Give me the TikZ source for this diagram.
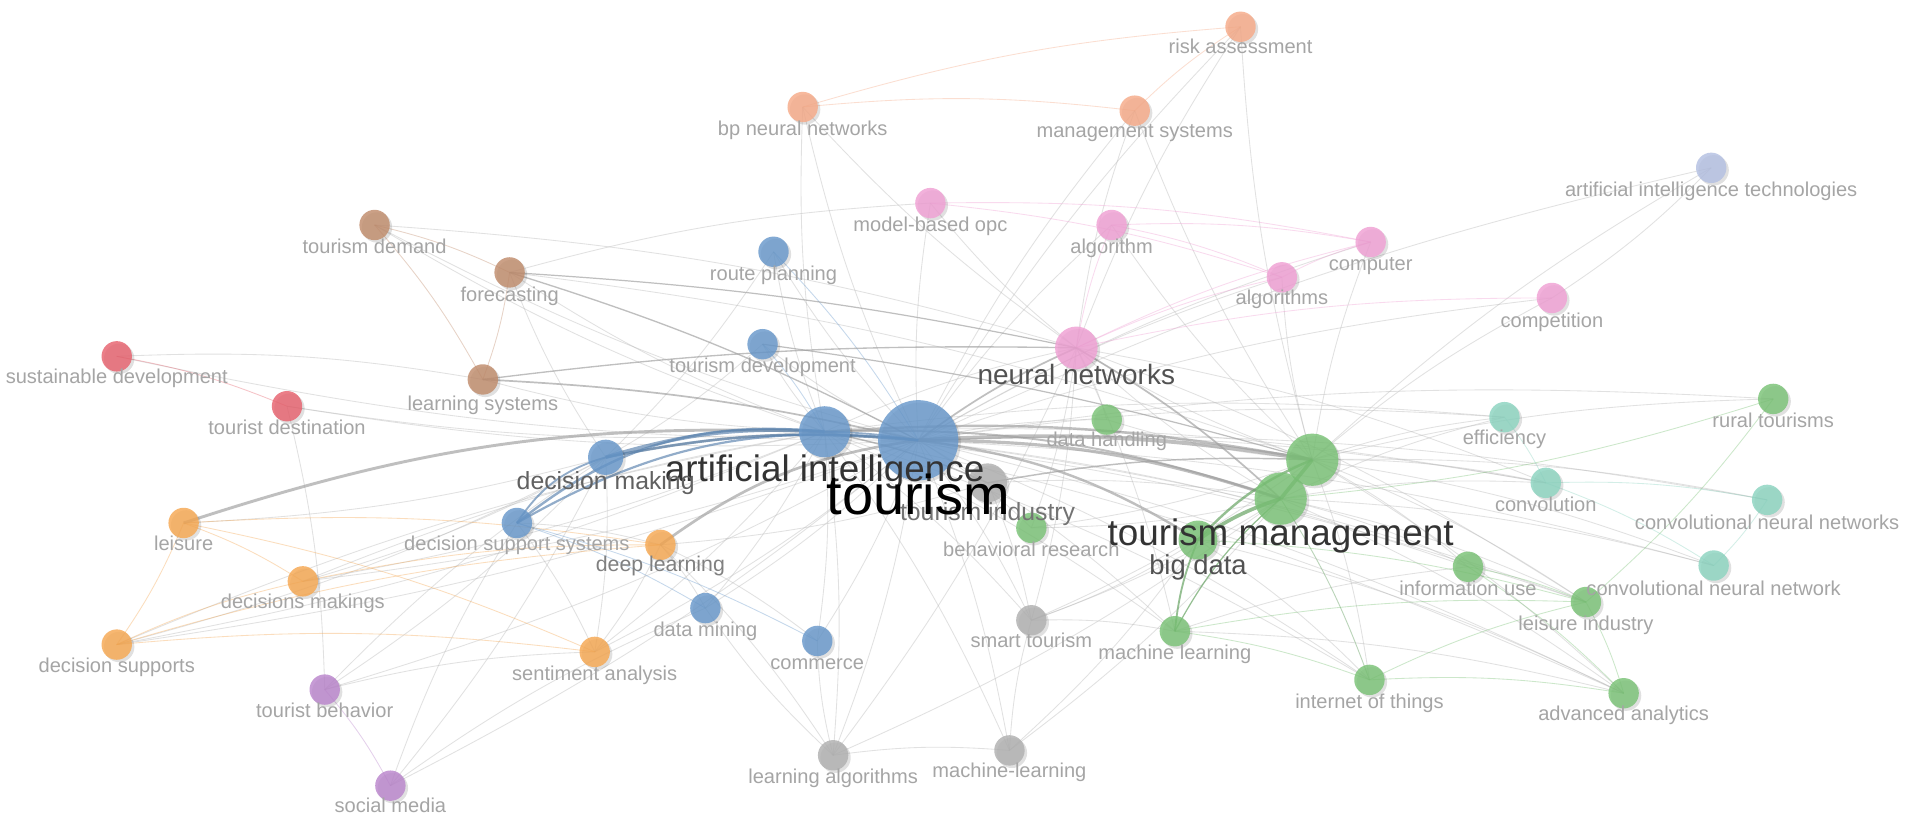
\documentclass[tikz,border=0pt]{standalone}
\usepackage{fontspec}
\setmainfont{Liberation Sans}
\usetikzlibrary{shadows}
\pgfdeclarelayer{bg}
\pgfdeclarelayer{fg}
\pgfsetlayers{bg,main,fg}
\definecolor{cred}{RGB}{231,98,110}
\definecolor{cgreen}{RGB}{122,194,118}
\definecolor{cblue}{RGB}{104,152,203}
\definecolor{cyel}{RGB}{246,168,82}
\definecolor{cpurp}{RGB}{186,133,204}
\definecolor{cteal}{RGB}{140,212,192}
\definecolor{csalm}{RGB}{246,170,136}
\definecolor{cbrown}{RGB}{192,140,108}
\definecolor{cpink}{RGB}{240,160,212}
\definecolor{cgray}{RGB}{176,176,176}
\definecolor{clav}{RGB}{180,192,226}
\definecolor{labgray}{RGB}{165,165,165}
\definecolor{edgegray}{RGB}{185,185,185}
\tikzset{
  kwnode/.style={circle, inner sep=0pt, draw=none, fill opacity=0.82,
    drop shadow={shadow xshift=2pt, shadow yshift=-2pt, opacity=0.12, fill=black}},
  lbl/.style={font=\fontsize{16.5}{18}\selectfont, text=labgray, inner sep=0pt,
    text height=12pt, text depth=3.5pt, anchor=center},
  lbldl/.style={lbl, font=\fontsize{17.5}{19}\selectfont, text=black!50},
  lblM/.style={font=\fontsize{20.4}{22}\selectfont, inner sep=0pt,
    text height=14.7pt, text depth=4.3pt, anchor=center},
  lblB/.style={font=\fontsize{23}{25}\selectfont, text=black!68, inner sep=0pt,
    text height=16.5pt, text depth=5pt, anchor=center},
  lblBD/.style={font=\fontsize{22.5}{25}\selectfont, text=black!68, inner sep=0pt,
    text height=16.2pt, text depth=4.8pt, anchor=center},
  lblL/.style={font=\fontsize{30.3}{33}\selectfont, text=black!80, inner sep=0pt,
    text height=21.8pt, text depth=6.4pt, anchor=center},
  lblT/.style={font=\fontsize{46}{50}\selectfont, text=black, inner sep=0pt,
    text height=33pt, text depth=9.7pt, anchor=center},
  thin/.style={draw=edgegray, line width=0.7pt, opacity=0.42},
  ctint/.style={draw=#1, line width=0.7pt, opacity=0.38},
  thick/.style={draw=black!38, line width=#1, opacity=0.65},
  bthick/.style={draw=cblue!85!black, line width=#1, opacity=0.65},
  gthick/.style={draw=cgreen!85!black, line width=#1, opacity=0.7}
}
\newcommand\kwn[8]{%
  \node[kwnode, fill=#4, minimum size=#5pt] (#1) at (#2,#3) {};
  \begin{pgfonlayer}{fg}\node[#8] (#1l) at (#2,#6) {#7};\end{pgfonlayer}}
\newcommand\kwu[5]{%
  \node[kwnode, fill=#4, minimum size=#5pt] (#1) at (#2,#3) {};}
\begin{document}
\begin{tikzpicture}[x=1pt,y=-1pt]
\begin{pgfonlayer}{bg}
\fill[white] (0,0) rectangle (1568,685);
\end{pgfonlayer}
\path[use as bounding box] (0,0) rectangle (1568,685);
% keyword nodes
\kwn{ra}{1020}{22}{csalm}{25}{40}{risk assessment}{lbl}
\kwn{bpnn}{660}{88}{csalm}{25}{107}{bp neural networks}{lbl}
\kwn{ms}{933}{91}{csalm}{25}{109}{management systems}{lbl}
\kwn{mbo}{765}{167}{cpink}{25}{186}{model-based opc}{lbl}
\kwn{alg}{914}{185}{cpink}{25}{204}{algorithm}{lbl}
\kwn{comp}{1127}{199}{cpink}{25}{218}{computer}{lbl}
\kwn{algs}{1054}{228}{cpink}{25}{246}{algorithms}{lbl}
\kwn{compet}{1276}{245}{cpink}{25}{265}{competition}{lbl}
\kwn{nn}{885}{286}{cpink}{35}{310}{neural networks}{lblB}
\kwn{ait}{1407}{138}{clav}{25}{157}{artificial intelligence technologies}{lbl}
\kwn{td}{308}{185}{cbrown}{25}{204}{tourism demand}{lbl}
\kwn{fc}{419}{224}{cbrown}{25}{244}{forecasting}{lbl}
\kwn{ls}{397}{312}{cbrown}{25}{333}{learning systems}{lbl}
\kwn{sd}{96}{293}{cred}{25}{311}{sustainable development}{lbl}
\kwn{tdest}{236}{334}{cred}{25}{353}{tourist destination}{lbl}
\kwn{rp}{636}{207}{cblue}{25}{226}{route planning}{lbl}
\kwn{tdev}{627}{283}{cblue}{25}{302}{tourism development}{lbl}
\kwn{ai}{678}{355}{cblue}{42}{388}{artificial intelligence}{lblL}
\kwn{dm}{498}{376}{cblue}{29}{397}{decision making}{lblM, text=black!62}
\kwn{dss}{425}{430}{cblue}{25}{448}{decision support systems}{lbl}
\kwn{dmin}{580}{500}{cblue}{25}{519}{data mining}{lbl}
\kwn{comm}{672}{527}{cblue}{25}{546}{commerce}{lbl}
\kwn{leis}{151}{430}{cyel}{25}{448}{leisure}{lbl}
\kwn{dmk}{249}{478}{cyel}{25}{496}{decisions makings}{lbl}
\kwn{dsup}{96}{530}{cyel}{25}{549}{decision supports}{lbl}
\kwn{dl}{543}{448}{cyel}{25}{466}{deep learning}{lbldl}
\kwn{sa}{489}{536}{cyel}{25}{555}{sentiment analysis}{lbl}
\kwn{tb}{267}{567}{cpurp}{25}{586}{tourist behavior}{lbl}
\kwn{smed}{321}{646}{cpurp}{25}{664}{social media}{lbl}
\kwn{ti}{812}{397}{cgray}{32}{423}{tourism industry}{lblM, text=black!55}
\kwn{st}{848}{510}{cgray}{25}{528}{smart tourism}{lbl}
\kwn{la}{685}{621}{cgray}{25}{640}{learning algorithms}{lbl}
\kwn{mlh}{830}{617}{cgray}{25}{635}{machine-learning}{lbl}
\kwn{dh}{910}{345}{cgreen}{25}{363}{data handling}{lbl}
\kwn{br}{848}{434}{cgreen}{25}{453}{behavioral research}{lbl}
\kwu{tmx}{1079}{378}{cgreen}{43}
\kwn{tm}{1053}{410}{cgreen}{43}{441}{tourism management}{lblL}
\kwn{bd}{985}{444}{cgreen}{32}{467}{big data}{lblBD}
\kwn{iu}{1207}{466}{cgreen}{25}{485}{information use}{lbl}
\kwn{ml}{966}{519}{cgreen}{25}{538}{machine learning}{lbl}
\kwn{li}{1304}{495}{cgreen}{25}{514}{leisure industry}{lbl}
\kwn{iot}{1126}{559}{cgreen}{25}{578}{internet of things}{lbl}
\kwn{aa}{1335}{570}{cgreen}{25}{588}{advanced analytics}{lbl}
\kwn{rt}{1458}{328}{cgreen}{25}{347}{rural tourisms}{lbl}
\kwn{eff}{1237}{343}{cteal}{25}{361}{efficiency}{lbl}
\kwn{conv}{1271}{397}{cteal}{25}{416}{convolution}{lbl}
\kwn{cnns}{1453}{411}{cteal}{25}{431}{convolutional neural networks}{lbl}
\kwn{cnn}{1409}{465}{cteal}{25}{485}{convolutional neural network}{lbl}
\kwn{tour}{755}{362}{cblue}{66}{411}{tourism}{lblT}
% edges
\begin{pgfonlayer}{bg}
\foreach \a/\b in {tour/ra,tour/bpnn,tour/ms,tour/mbo,tour/alg,tour/algs,tour/comp,tour/compet,
  tour/ait,tour/rp,tour/tdev,tour/td,tour/sd,tour/tdest,tour/dmk,tour/dsup,tour/sa,tour/dmin,
  tour/comm,tour/la,tour/mlh,tour/st,tour/br,tour/ml,tour/iot,tour/aa,tour/li,tour/iu,tour/cnn,
  tour/cnns,tour/conv,tour/eff,tour/rt,tour/dh,tour/tb,tour/smed,
  ai/rp,ai/tdev,ai/nn,ai/sa,ai/dmin,ai/comm,ai/la,ai/mlh,ai/st,ai/ml,ai/iot,ai/li,ai/aa,ai/eff,
  ai/conv,ai/bpnn,ai/dmk,ai/dsup,ai/td,ai/fc,ai/ls,ai/tdest,
  tmx/eff,tmx/conv,tmx/cnns,tmx/cnn,tmx/rt,tmx/iu,tmx/li,tmx/aa,tmx/iot,tmx/nn,tmx/algs,tmx/comp,
  tmx/alg,tmx/ms,tmx/ra,tmx/compet,tmx/ait,tmx/dh,tmx/br,tmx/st,
  tm/iu,tm/li,tm/aa,tm/iot,tm/conv,tm/cnn,tm/st,tm/br,tm/la,tm/mlh,tm/nn,tm/eff,
  nn/bpnn,nn/mbo,nn/ms,nn/ra,nn/dh,nn/ml,nn/st,nn/la,nn/br,nn/conv,nn/li,
  dm/leis,dm/dsup,dm/dmk,dm/sa,dm/fc,dm/tb,dm/smed,dl/dmin,dl/sa,dl/la,dl/comm,
  bd/st,bd/mlh,bd/iot,bd/aa,la/mlh,la/comm,la/dmin,mlh/st,st/ml,ml/iu,ml/aa,
  fc/mbo,fc/tmx,td/nn,sd/ls,tdest/tb,dsup/ai,dmk/ai,smed/dss,smed/dmin,tb/sa,tb/dm,
  ait/compet,ti/st,ti/tm,ti/dl,rp/dm,tdev/dm,dss/dl,dss/sa}
  \draw[thin] (\a.center) to[bend left=6] (\b.center);
\foreach \a/\b/\c in {bpnn/ms/csalm,bpnn/ra/csalm,ms/ra/csalm,
  mbo/algs/cpink,mbo/comp/cpink,alg/comp/cpink,alg/algs/cpink,algs/comp/cpink,
  nn/algs/cpink,nn/comp/cpink,nn/compet/cpink,nn/alg/cpink,
  td/fc/cbrown,td/ls/cbrown,fc/ls/cbrown,sd/tdest/cred,
  leis/dmk/cyel,leis/dsup/cyel,leis/sa/cyel,dsup/dmk/cyel,dsup/sa/cyel,dmk/dl/cyel,
  dsup/dl/cyel,leis/dl/cyel,tb/smed/cpurp,
  iot/li/cgreen,iot/aa/cgreen,li/aa/cgreen,iu/aa/cgreen,ml/iot/cgreen,ml/li/cgreen,
  rt/li/cgreen,rt/tm/cgreen,iu/li/cgreen,tm/iot/cgreen,bd/li/cgreen,
  conv/cnns/cteal,conv/cnn/cteal,cnns/cnn/cteal,eff/conv/cteal,
  dss/dmin/cblue,dss/comm/cblue,rp/tour/cblue,tdev/ai/cblue}
  \draw[ctint=\c] (\a.center) to[bend left=6] (\b.center);
% heavier links
\draw[thick=3.2pt] (tour.center) to[bend left=6] (tmx.center);
\draw[thick=2.6pt] (tour.center) to[bend left=9] (tm.center);
\draw[thick=2pt] (tour.center) to[bend left=12] (bd.center);
\draw[thick=2pt] (ai.center) to[bend left=7] (tmx.center);
\draw[thick=1.6pt] (ai.center) to[bend left=10] (tm.center);
\draw[thick=2.4pt] (leis.center) to[bend left=10] (ai.center);
\draw[thick=2.2pt] (dl.center) to[bend left=14] (tour.center);
\draw[thick=1.8pt] (dm.center) to[bend left=8] (tour.center);
\draw[thick=1.4pt] (tour.center) to[bend left=6] (nn.center);
\draw[thick=1.4pt] (ls.center) to[bend left=5] (tour.center);
\draw[thick=1.1pt] (fc.center) to[bend left=5] (tour.center);
\draw[thick=1.1pt] (ls.center) to[bend left=4] (nn.center);
\draw[thick=1pt] (fc.center) to[bend left=4] (nn.center);
\draw[thick=1pt] (tdev.center) to[bend left=4] (tmx.center);
\draw[thick=1.4pt] (nn.center) to[bend left=6] (tm.center);
\draw[thick=1.2pt] (ti.center) to[bend left=6] (tmx.center);
\draw[thick=1.2pt] (ai.center) to[bend left=6] (ti.center);
\draw[bthick=3pt] (dm.center) to[bend left=10] (ai.center);
\draw[bthick=2.2pt] (dm.center) to[bend left=8] (tour.center);
\draw[bthick=2pt] (dss.center) to[bend left=22] (ai.center);
\draw[bthick=1.8pt] (dss.center) to[bend left=18] (tour.center);
\draw[bthick=1.5pt] (dss.center) to[bend left=20] (dm.center);
\draw[bthick=1.4pt] (ai.center) to[bend left=4] (tour.center);
\draw[gthick=3pt] (bd.center) to[bend left=8] (tm.center);
\draw[gthick=2pt] (bd.center) to[bend left=12] (tmx.center);
\draw[gthick=3pt] (tm.center) to (tmx.center);
\draw[gthick=1.5pt] (ml.center) to[bend left=8] (bd.center);
\draw[gthick=1pt] (ml.center) to[bend left=10] (tm.center);
\end{pgfonlayer}
\end{tikzpicture}
\end{document}
